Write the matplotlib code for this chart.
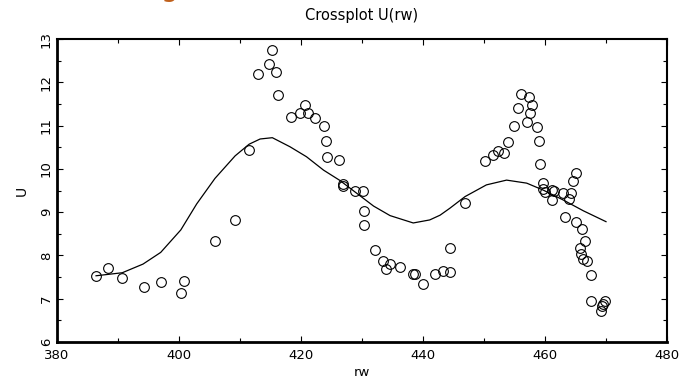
import matplotlib.pyplot as plt
from matplotlib.ticker import MultipleLocator

# measured points
rw = [386.4, 388.4, 390.7, 394.2, 397.0, 400.3, 400.9, 405.9, 409.2, 411.5,
      413.0, 414.8, 415.3, 415.9, 416.3, 418.3, 419.8, 420.6, 421.1, 422.3,
      423.7, 424.1, 424.3, 426.2, 426.9, 426.9, 428.9, 430.2, 430.3, 430.4,
      432.1, 433.4, 434.0, 434.6, 436.2, 438.4, 438.7, 440.0, 441.9, 443.2,
      444.4, 444.5, 446.9, 450.2, 451.5, 452.3, 453.2, 454.0, 454.9, 455.5,
      456.0, 457.3, 457.8, 457.5, 457.1, 458.7, 459.0, 459.1, 459.6, 459.6,
      460.0, 461.1, 461.5, 461.2, 462.9, 464.2, 464.0, 465.0, 464.6, 463.3,
      465.0, 466.0, 466.6, 465.7, 465.9, 466.3, 466.9, 467.5, 467.6, 469.3,
      469.9, 469.5, 469.2]
U = [7.53, 7.70, 7.47, 7.27, 7.38, 7.13, 7.41, 8.33, 8.83, 10.44,
     12.20, 12.43, 12.75, 12.23, 11.71, 11.20, 11.28, 11.47, 11.30, 11.17,
     11.00, 10.64, 10.28, 10.21, 9.64, 9.60, 9.50, 9.50, 9.03, 8.70,
     8.13, 7.88, 7.68, 7.81, 7.73, 7.57, 7.57, 7.34, 7.57, 7.64,
     7.61, 8.17, 9.20, 10.18, 10.33, 10.41, 10.37, 10.61, 11.00, 11.40,
     11.73, 11.67, 11.47, 11.30, 11.08, 10.97, 10.64, 10.11, 9.67, 9.53,
     9.47, 9.51, 9.50, 9.28, 9.44, 9.44, 9.30, 9.91, 9.71, 8.88,
     8.77, 8.60, 8.33, 8.18, 8.04, 7.91, 7.88, 7.54, 6.94, 6.83,
     6.94, 6.87, 6.71]

# smoothed fit
fit_rw = [386.4, 390.7, 394.1, 397.0, 400.3, 402.9, 405.9, 409.2, 411.5, 413.3,
          415.3, 418.2, 420.9, 423.7, 426.4, 429.1, 431.9, 434.6, 438.4, 441.1,
          442.8, 444.4, 446.9, 450.4, 453.7, 457.0, 459.7, 463.0, 466.3, 470.0]
fit_U = [7.53, 7.60, 7.80, 8.07, 8.59, 9.19, 9.78, 10.30, 10.57, 10.69,
         10.72, 10.51, 10.28, 9.97, 9.73, 9.44, 9.14, 8.92, 8.75, 8.82,
         8.93, 9.09, 9.36, 9.63, 9.74, 9.67, 9.51, 9.28, 9.03, 8.78]

fig = plt.figure(figsize=(6.81, 3.79), dpi=100)
ax = fig.add_axes([57 / 681, 37 / 379, 610 / 681, 303 / 379])

ax.plot(fit_rw, fit_U, color="black", linewidth=0.9)
ax.plot(rw, U, "o", markerfacecolor="none", markeredgecolor="black",
        markersize=7, markeredgewidth=0.8)

ax.set_xlim(380, 480)
ax.set_ylim(6, 13)
ax.xaxis.set_major_locator(MultipleLocator(20))
ax.xaxis.set_minor_locator(MultipleLocator(10))
ax.yaxis.set_major_locator(MultipleLocator(1))
ax.yaxis.set_minor_locator(MultipleLocator(0.5))
ax.tick_params(which="both", direction="in", top=True, right=True,
               labelsize=9.5, width=0.8, colors="black")
ax.tick_params(which="major", length=4)
ax.tick_params(which="minor", length=3)
ax.tick_params(axis="x", pad=5)
ax.tick_params(axis="y", pad=3)
for lab in ax.get_yticklabels():
    lab.set_rotation(90)
    lab.set_va("center")
for s in ["left", "bottom"]:
    ax.spines[s].set_linewidth(2)
for s in ["top", "right"]:
    ax.spines[s].set_linewidth(1.5)

ax.text(0.5, 1.076, "Crossplot U(rw)", transform=ax.transAxes,
        ha="center", va="center", fontsize=10.5)
ax.set_xlabel("rw", fontsize=9.5)
ax.xaxis.set_label_coords(0.5, -0.102)
ax.xaxis.label.set_va("center")
ax.set_ylabel("U", fontsize=10)
ax.yaxis.set_label_coords(-0.058, 0.5)
ax.yaxis.label.set_va("center")

# clipped orange heading at the very top of the page
fig.text(0.248, 1.0 + 4.5 / 379, "g", color="#c0611c", fontsize=20,
         ha="center", va="baseline")

fig.savefig("out.png", dpi=100)
